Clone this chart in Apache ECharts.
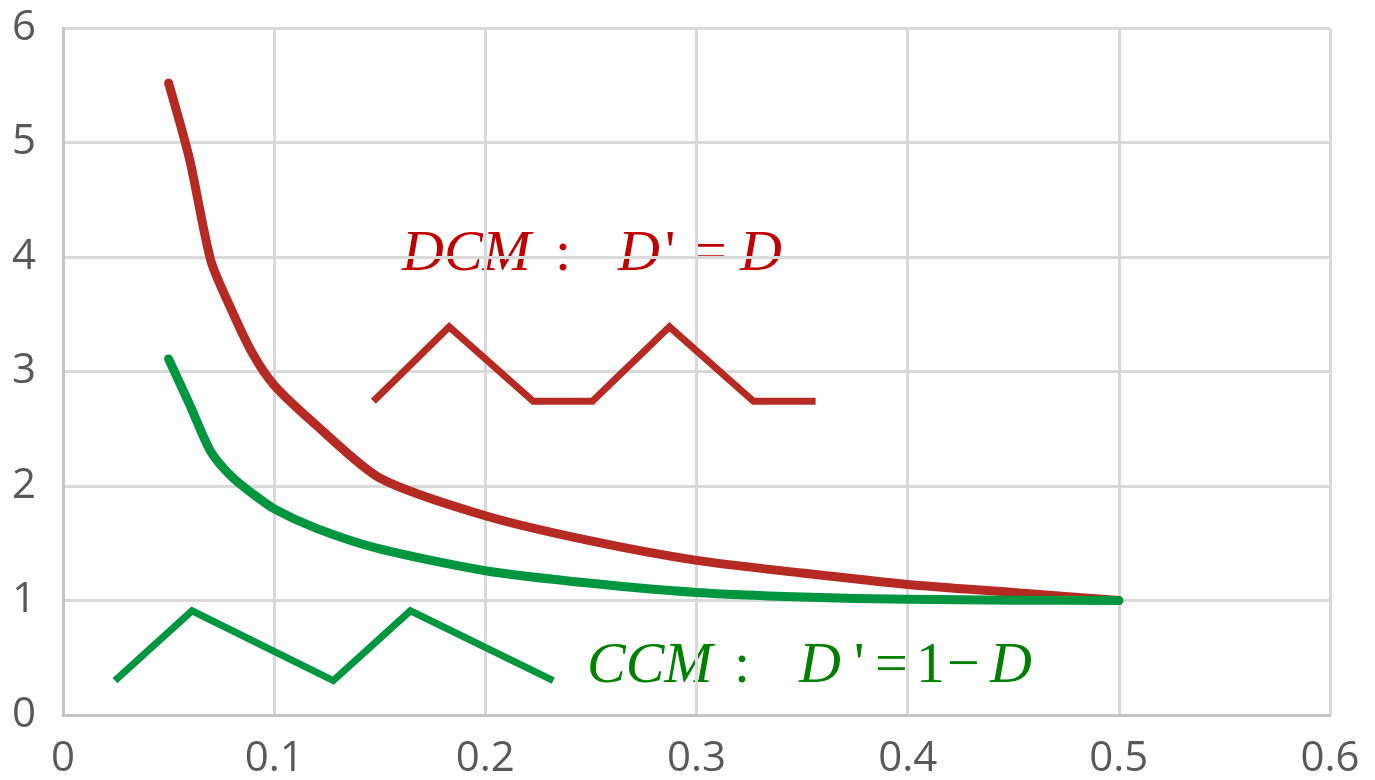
<!DOCTYPE html>
<html>
<head>
<meta charset="utf-8">
<script src="https://cdn.jsdelivr.net/npm/echarts@6/dist/echarts.min.js"></script>
<style>
  html, body { margin: 0; padding: 0; background: #fff; }
  #chart { width: 1375px; height: 780px; }
</style>
</head>
<body>
<div id="chart"></div>
<script>
// 占空比 D 及两种模式下的比值曲线
const dValues = [0.05, 0.06, 0.07, 0.08, 0.09, 0.1, 0.12, 0.15, 0.2, 0.25, 0.3, 0.35, 0.4, 0.45, 0.5];
const dcmRatio = [5.52, 4.85, 3.97, 3.53, 3.15, 2.88, 2.53, 2.07, 1.74, 1.52, 1.35, 1.24, 1.14, 1.07, 1.0];
const ccmRatio = [3.11, 2.71, 2.3, 2.08, 1.93, 1.8, 1.63, 1.45, 1.26, 1.15, 1.07, 1.03, 1.01, 1.003, 1.0];

// 示意波形（DCM / CCM）
const dcmWaveX = [0.147, 0.1829, 0.2227, 0.2507, 0.2872, 0.327, 0.3564];
const dcmWaveY = [2.74, 3.39, 2.74, 2.74, 3.39, 2.74, 2.74];
const ccmWaveX = [0.0246, 0.0611, 0.128, 0.1645, 0.2322];
const ccmWaveY = [0.3, 0.91, 0.3, 0.91, 0.3];

// 坐标轴刻度
const xTicks = [0, 0.1, 0.2, 0.3, 0.4, 0.5, 0.6];
const yTicks = [0, 1, 2, 3, 4, 5, 6];

const RED = '#B52B23';
const GREEN = '#00963F';
const RED_TEXT = '#C00000';
const GREEN_TEXT = '#008000';

function pairs(xs, ys) {
    return xs.map((x, i) => [x, ys[i]]);
}

function label(text, x, y, color, italic) {
    return {
        type: 'text',
        x: x,
        y: y,
        style: {
            text: text,
            font: (italic ? 'italic ' : '') + '58px "Liberation Serif", "Times New Roman", serif',
            fill: color,
            verticalAlign: 'middle'
        }
    };
}

const chart = echarts.init(document.getElementById('chart'));

const axisLabelStyle = {
    color: '#595959',
    fontSize: 42,
    fontFamily: '"Open Sans", "Liberation Sans", sans-serif'
};

chart.setOption({
    animation: false,
    grid: { left: 63, right: 45, top: 28, bottom: 62 },
    xAxis: {
        type: 'value',
        min: xTicks[0],
        max: xTicks[xTicks.length - 1],
        interval: 0.1,
        axisLine: { show: true, lineStyle: { color: '#c4c4c4', width: 3 } },
        axisTick: { show: false },
        splitLine: { show: true, lineStyle: { color: '#d9d9d9', width: 3 } },
        axisLabel: Object.assign({ margin: 23, formatter: v => String(+v.toFixed(1)) }, axisLabelStyle)
    },
    yAxis: {
        type: 'value',
        min: yTicks[0],
        max: yTicks[yTicks.length - 1],
        interval: 1,
        axisLine: { show: true, lineStyle: { color: '#c4c4c4', width: 3 } },
        axisTick: { show: false },
        splitLine: { show: true, lineStyle: { color: '#d9d9d9', width: 3 } },
        axisLabel: Object.assign({ margin: 27 }, axisLabelStyle)
    },
    series: [
        {
            name: 'DCM',
            type: 'line',
            data: pairs(dValues, dcmRatio),
            smooth: 0.25,
            showSymbol: false,
            lineStyle: { color: RED, width: 9, cap: 'round', join: 'round' }
        },
        {
            name: 'CCM',
            type: 'line',
            data: pairs(dValues, ccmRatio),
            smooth: 0.25,
            showSymbol: false,
            lineStyle: { color: GREEN, width: 9, cap: 'round', join: 'round' }
        },
        {
            name: 'DCM波形',
            type: 'line',
            data: pairs(dcmWaveX, dcmWaveY),
            showSymbol: false,
            lineStyle: { color: RED, width: 7, cap: 'butt', join: 'miter' }
        },
        {
            name: 'CCM波形',
            type: 'line',
            data: pairs(ccmWaveX, ccmWaveY),
            showSymbol: false,
            lineStyle: { color: GREEN, width: 7, cap: 'butt', join: 'miter' }
        }
    ],
    graphic: [
        // DCM : D' = D
        label('DCM', 402, 255, RED_TEXT, true),
        label(':', 555, 255, RED_TEXT, false),
        label('D', 618, 255, RED_TEXT, true),
        label("'", 665, 255, RED_TEXT, false),
        label('=', 694, 255, RED_TEXT, false),
        label('D', 740, 255, RED_TEXT, true),
        // CCM : D' = 1 − D
        label('CCM', 587, 667, GREEN_TEXT, true),
        label(':', 734, 667, GREEN_TEXT, false),
        label('D', 799, 667, GREEN_TEXT, true),
        label("'", 854, 667, GREEN_TEXT, false),
        label('=', 875, 667, GREEN_TEXT, false),
        label('1', 916, 667, GREEN_TEXT, false),
        label('\u2212', 947, 667, GREEN_TEXT, false),
        label('D', 990, 667, GREEN_TEXT, true)
    ]
});

window.addEventListener('resize', function() {
    chart.resize();
});
</script>
</body>
</html>
